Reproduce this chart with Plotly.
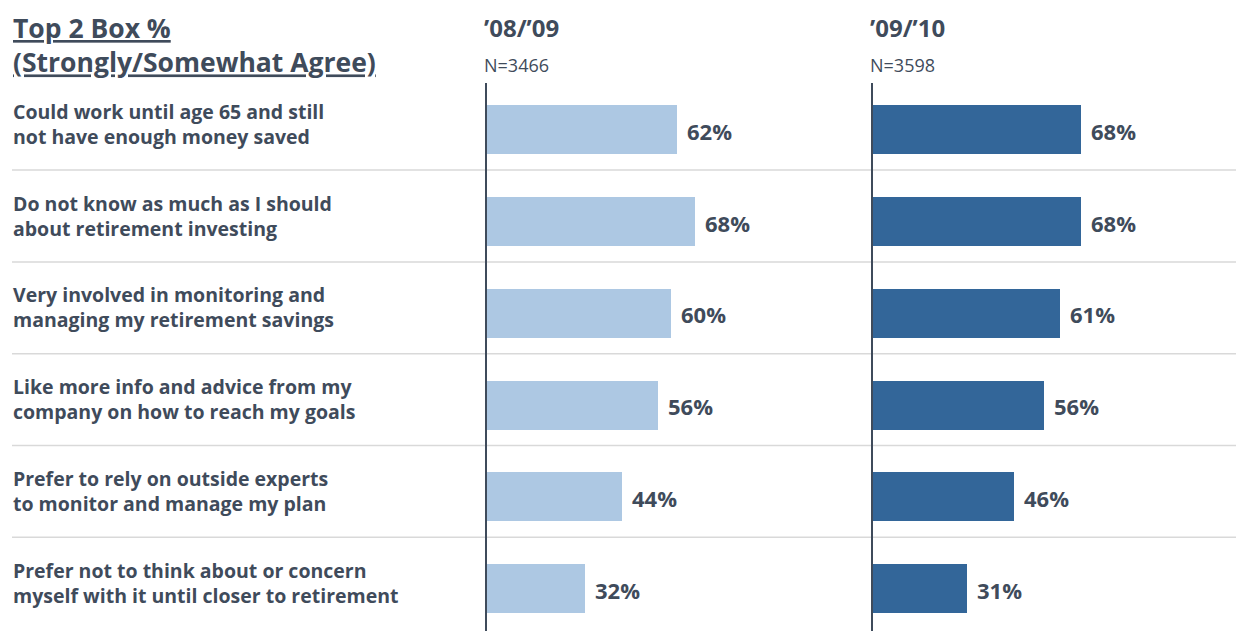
import plotly.graph_objects as go

categories = [
    "Could work until age 65 and still<br>not have enough money saved",
    "Do not know as much as I should<br>about retirement investing",
    "Very involved in monitoring and<br>managing my retirement savings",
    "Like more info and advice from my<br>company on how to reach my goals",
    "Prefer to rely on outside experts<br>to monitor and manage my plan",
    "Prefer not to think about or concern<br>myself with it until closer to retirement",
]
values_0809 = [62, 68, 60, 56, 44, 32]
values_0910 = [68, 68, 61, 56, 46, 31]
period_labels = ["\u201908/\u201909", "\u201909/\u201910"]
sample_sizes = ["N=3466", "N=3598"]
title_lines = ["Top 2 Box %", "(Strongly/Somewhat Agree)"]

OFF = 8  # page body margin
W, H = 1244 - OFF, 631 - OFF
TXT = "#3F4B5B"
FONT = "Open Sans"
LIGHT = "#ADC8E3"
DARK = "#336699"


def px(X):
    return (X - OFF) / W


def py(Y):
    return 1 - (Y - OFF) / H


ypos = list(range(len(categories)))
row0 = 129.7 - OFF
step = 91.8

fig = go.Figure()
for vals, col, xa in ((values_0809, LIGHT, "x"), (values_0910, DARK, "x2")):
    fig.add_trace(go.Bar(
        y=ypos, x=vals, orientation="h", xaxis=xa, yaxis="y",
        marker=dict(color=col, line=dict(width=0)), width=49 / step,
        showlegend=False, hoverinfo="skip",
    ))

x1a = px(486)
x2a = px(872)
span = 308 / W
fig.update_layout(
    width=W, height=H, margin=dict(l=0, r=0, t=0, b=0),
    paper_bgcolor="white", plot_bgcolor="white",
    xaxis=dict(domain=[x1a, x1a + span], range=[0, 100], visible=False, fixedrange=True),
    xaxis2=dict(domain=[x2a, x2a + span], range=[0, 100], visible=False, fixedrange=True),
    yaxis=dict(range=[(H - row0) / step, -row0 / step], visible=False, fixedrange=True),
    bargap=0, font=dict(family=FONT, color=TXT),
)

shapes = []
for i in range(len(categories) - 1):
    shapes.append(dict(type="line", xref="paper", yref="y", x0=px(12), x1=1.0,
                       y0=i + 0.44, y1=i + 0.44, line=dict(color="#D9D9D9", width=1.5), layer="below"))
for xa in (x1a, x2a):
    shapes.append(dict(type="line", xref="paper", yref="paper", x0=xa, x1=xa,
                       y0=py(83), y1=0, line=dict(color=TXT, width=2)))
fig.update_layout(shapes=shapes)

ann = []
for i, c in enumerate(categories):
    ann.append(dict(xref="paper", yref="y", x=px(11), y=i, yshift=6, text=f"<b>{c}</b>",
                    showarrow=False, xanchor="left", yanchor="middle", align="left",
                    font=dict(family=FONT, size=19.5, color=TXT)))
for vals, xa in ((values_0809, "x"), (values_0910, "x2")):
    for i, v in enumerate(vals):
        ann.append(dict(xref=xa, yref="y", x=v, y=i, xshift=8, yshift=-1, text=f"<b>{v}%</b>",
                        showarrow=False, xanchor="left", yanchor="middle",
                        font=dict(family=FONT, size=22, color=TXT)))
title_text = "<br>".join(f"<b><u>{t}</u></b>" for t in title_lines)
ann.append(dict(xref="paper", yref="paper", x=px(11), y=1.0, text=title_text,
                showarrow=False, xanchor="left", yanchor="top", align="left",
                font=dict(family=FONT, size=26.5, color=TXT)))
for X, pl, n in zip((486, 872), period_labels, sample_sizes):
    ann.append(dict(xref="paper", yref="paper", x=px(X - 4), y=py(28), text=f"<b>{pl}</b>",
                    showarrow=False, xanchor="left", yanchor="middle",
                    font=dict(family=FONT, size=24, color=TXT)))
    ann.append(dict(xref="paper", yref="paper", x=px(X - 4), y=py(65), text=n,
                    showarrow=False, xanchor="left", yanchor="middle",
                    font=dict(family=FONT, size=18, color=TXT)))
fig.update_layout(annotations=ann)

fig.write_html("out.html")
